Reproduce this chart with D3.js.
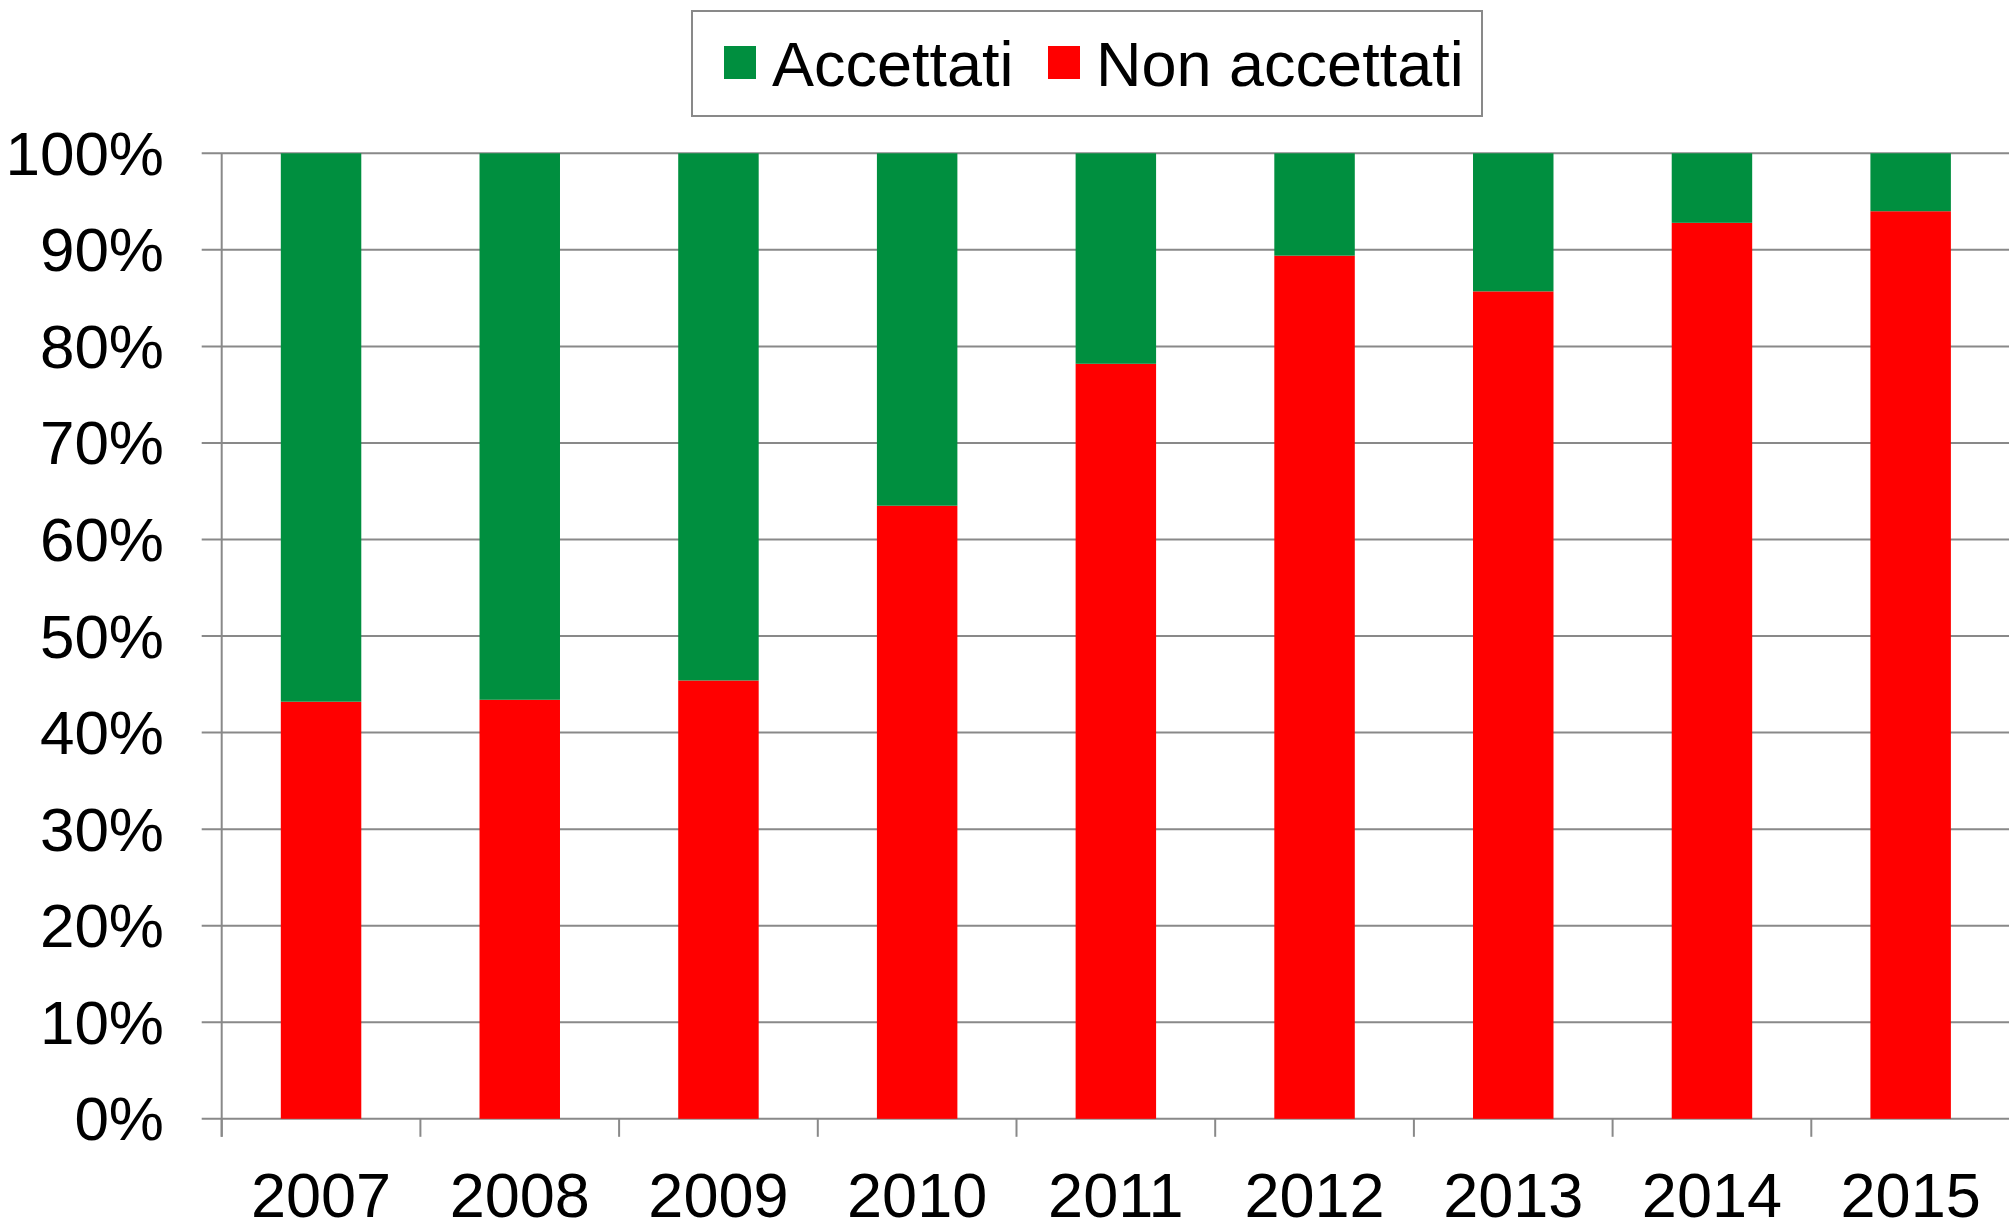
<!DOCTYPE html>
<html>
<head>
<meta charset="utf-8">
<script src="https://cdn.jsdelivr.net/npm/d3@7"></script>
<style>
html,body{margin:0;padding:0;background:#fff;}
svg{display:block;}
text{font-family:"Liberation Sans",Arial,sans-serif;fill:#000;}
</style>
</head>
<body>
<svg id="chart" width="2009" height="1225"></svg>
<script>
const years = ["2007","2008","2009","2010","2011","2012","2013","2014","2015"];
const nonAccettati = [43.2, 43.4, 45.4, 63.5, 78.2, 89.4, 85.7, 92.8, 94.0];
const accettati = [56.8, 56.6, 54.6, 36.5, 21.8, 10.6, 14.3, 7.2, 6.0];
const seriesNames = ["Accettati", "Non accettati"];
const seriesColors = ["#008F3F", "#FF0000"];
const yTicks = [0,10,20,30,40,50,60,70,80,90,100];

(function () {
const svg = d3.select("#chart");
const plotLeft = 221.7, plotRight = 2010, plotTop = 153.3, plotBottom = 1118.8;
const gridColor = "#898989";

const x = d3.scaleBand().domain(years).range([plotLeft, plotRight]).paddingInner(0.595).paddingOuter(0.2975);
const y = d3.scaleLinear().domain([0, 100]).range([plotBottom, plotTop]);
const step = x.step();

// gridlines (with outside tick extension)
svg.append("g").selectAll("line").data(yTicks).join("line")
  .attr("x1", plotLeft - 20).attr("x2", 2009)
  .attr("y1", d => y(d)).attr("y2", d => y(d))
  .attr("stroke", gridColor).attr("stroke-width", 2);

// y axis line
svg.append("line").attr("x1", plotLeft).attr("x2", plotLeft).attr("y1", plotTop).attr("y2", plotBottom + 18)
  .attr("stroke", gridColor).attr("stroke-width", 2);

// x tick marks at category boundaries
const boundaries = d3.range(years.length + 1).map(i => plotLeft + i * step);
svg.append("g").selectAll("line").data(boundaries).join("line")
  .attr("x1", d => d).attr("x2", d => d)
  .attr("y1", plotBottom).attr("y2", plotBottom + 18)
  .attr("stroke", gridColor).attr("stroke-width", 2);

// stacked data
const rows = years.map((yr, i) => ({year: yr, "Non accettati": nonAccettati[i], "Accettati": accettati[i]}));
const stack = d3.stack().keys(["Non accettati", "Accettati"]);
const stacked = stack(rows);
const colorOf = k => seriesColors[seriesNames.indexOf(k)];

svg.append("g").selectAll("g").data(stacked).join("g")
  .attr("fill", d => colorOf(d.key))
  .selectAll("rect").data(d => d).join("rect")
  .attr("x", d => x(d.data.year))
  .attr("width", x.bandwidth())
  .attr("y", d => y(Math.min(100, d[1])))
  .attr("height", d => y(d[0]) - y(Math.min(100, d[1])));

// y labels
svg.append("g").selectAll("text").data(yTicks).join("text")
  .attr("x", 164).attr("y", d => y(d))
  .attr("text-anchor", "end").attr("dominant-baseline", "central")
  .attr("font-size", 62)
  .text(d => d + "%");

// x labels
svg.append("g").selectAll("text").data(years).join("text")
  .attr("x", d => x(d) + x.bandwidth() / 2).attr("y", 1217)
  .attr("text-anchor", "middle")
  .attr("font-size", 63)
  .text(d => d);

// legend
const lg = svg.append("g");
lg.append("rect").attr("x", 692).attr("y", 11).attr("width", 790).attr("height", 105)
  .attr("fill", "#fff").attr("stroke", gridColor).attr("stroke-width", 2);
const legendItems = [
  {name: seriesNames[0], sx: 724, tx: 772},
  {name: seriesNames[1], sx: 1048, tx: 1096}
];
legendItems.forEach(it => {
  lg.append("rect").attr("x", it.sx).attr("y", 46).attr("width", 32).attr("height", 33)
    .attr("fill", colorOf(it.name));
  lg.append("text").attr("x", it.tx).attr("y", 86).attr("font-size", 63).text(it.name);
});
})();
</script>
</body>
</html>
